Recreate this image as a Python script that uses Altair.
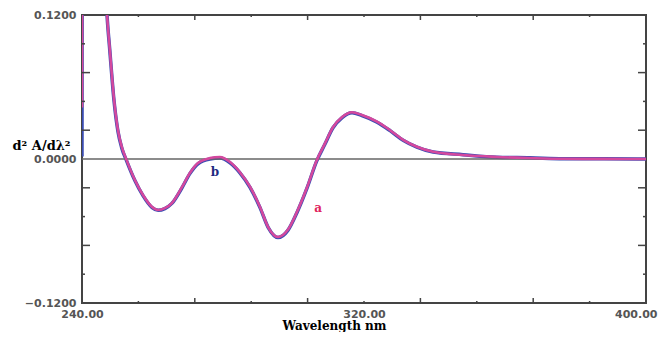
import altair as alt
import pandas as pd

# ---- data ----
wavelength = [240.0, 240.3, 241.5, 243.5, 245.5, 246.3, 247.1, 247.9, 249.1, 250.2, 251.3, 252.6,
              255.0, 257.3, 259.9, 261.6, 263.5, 265.5, 268.4, 270.6, 272.9, 276.3, 279.1,
              282.0, 284.8, 287.7, 290.5, 292.8, 295.6, 298.4, 301.0, 303.8, 306.6,
              308.9, 311.2, 313.8, 316.6, 319.4, 323.7, 327.4, 331.1, 335.0, 339.6,
              348.1, 357.7, 367.1, 376.5, 388.0, 400.0]
curve_a = [0.043, 0.60, 0.55, 0.40, 0.25, 0.17, 0.12, 0.091, 0.049, 0.024, 0.010, -0.0005,
           -0.0175, -0.030, -0.040, -0.0425, -0.041, -0.0367, -0.0233, -0.0117, -0.0033, 0.0008, 0.0017,
           -0.0025, -0.011, -0.0233, -0.040, -0.0567, -0.065, -0.059, -0.044, -0.024, -0.001,
           0.0128, 0.0265, 0.035, 0.039, 0.0367, 0.0312, 0.0240, 0.0160, 0.0102, 0.0060,
           0.0033, 0.0017, 0.0008, 0.0002, 0.0001, 0.0]
curve_b = [0.002, 0.60, 0.55, 0.40, 0.25, 0.17, 0.12, 0.090, 0.048, 0.023, 0.009, -0.0012,
           -0.018, -0.0305, -0.0405, -0.0428, -0.0413, -0.037, -0.0238, -0.0122, -0.0040, 0.0, 0.0008,
           -0.0032, -0.0115, -0.0238, -0.0405, -0.057, -0.0655, -0.0595, -0.0445, -0.0245, -0.0016,
           0.0123, 0.0260, 0.0345, 0.0385, 0.0362, 0.0307, 0.0236, 0.0156, 0.0099, 0.0058,
           0.0036, 0.0015, 0.0010, 0.0003, 0.0002, 0.0]

x_label_values = [240, 320, 400]
y_label_values = [-0.12, 0.0, 0.12]
x_major_ticks = [272, 304, 336, 368]
x_minor_ticks = [256, 288, 320, 352, 384]
y_major_ticks = [-0.072, -0.024, 0.024, 0.072]
y_minor_ticks = [-0.096, -0.048, 0.048, 0.096]

label_text = ["a", "b"]
label_x = [307.0, 277.7]
label_y = [-0.041, -0.011]

# ---- chart ----
W, H = 564, 288
MAG = "#d4489e"
BLUE = "#3b4db3"
FRAME = "#444444"

xs = alt.Scale(domain=[240, 400], nice=False, zero=False)
ys = alt.Scale(domain=[-0.12, 0.12], nice=False, zero=False)

df_a = pd.DataFrame({"nm": wavelength, "v": curve_a})
df_b = pd.DataFrame({"nm": wavelength, "v": curve_b})

x_axis = alt.Axis(values=x_label_values, format=".2f", ticks=False, domain=False, grid=False,
                  labelFont="DejaVu Sans", labelFontWeight="bold", labelFontSize=11,
                  labelColor="#555555", labelPadding=5, labelFlush=False,
                  labelAlign=alt.ExprRef(expr="datum.value == 400 ? 'right' : 'center'"),
                  labelOffset=alt.ExprRef(expr="datum.value == 400 ? 11 : 0"),
                  title="Wavelength nm", titleFont="DejaVu Serif", titleFontWeight="bold",
                  titleFontSize=12, titleColor="#000000", titleX=252, titleY=22.5,
                  titleAlign="center", titleBaseline="middle")
y_axis = alt.Axis(values=y_label_values, format=".4f", ticks=False, domain=False, grid=False,
                  labelFont="DejaVu Sans", labelFontWeight="bold", labelFontSize=11,
                  labelColor="#555555", labelPadding=6,
                  title="d\u00b2 A/d\u03bb\u00b2", titleAngle=0, titleX=-70, titleY=130,
                  titleAlign="left", titleBaseline="middle", titleFont="DejaVu Serif",
                  titleFontWeight="bold", titleFontSize=13, titleColor="#000000")


def X(field):
    return alt.X(field, scale=xs, axis=x_axis)


def Y(field):
    return alt.Y(field, scale=ys, axis=y_axis)


line_b = alt.Chart(df_b).mark_line(color=BLUE, strokeWidth=3.5, clip=True,
                                   interpolate="monotone").encode(x=X("nm:Q"), y=Y("v:Q"))
line_a = alt.Chart(df_a).mark_line(color=MAG, strokeWidth=2.6, clip=True,
                                   interpolate="monotone").encode(x=X("nm:Q"), y=Y("v:Q"))

zero = alt.Chart(pd.DataFrame({"v": [0.0]})).mark_rule(color="#666666", strokeWidth=1.5).encode(
    y=Y("v:Q"))


def xticks(vals, length):
    d = pd.DataFrame({"t": vals})
    bot = alt.Chart(d).mark_rule(color=FRAME, strokeWidth=1.5).encode(
        x=X("t:Q"), y=alt.value(H), y2=alt.value(H - length))
    top = alt.Chart(d).mark_rule(color=FRAME, strokeWidth=1.5).encode(
        x=X("t:Q"), y=alt.value(0), y2=alt.value(length))
    return [bot, top]


def yticks(vals, length):
    d = pd.DataFrame({"t": vals})
    left = alt.Chart(d).mark_rule(color=FRAME, strokeWidth=1.5).encode(
        y=Y("t:Q"), x=alt.value(0), x2=alt.value(length))
    right = alt.Chart(d).mark_rule(color=FRAME, strokeWidth=1.5).encode(
        y=Y("t:Q"), x=alt.value(W), x2=alt.value(W - length))
    return [left, right]


ticks = (xticks(x_major_ticks, 5) + xticks(x_minor_ticks, 2)
         + yticks(y_major_ticks, 8) + yticks(y_minor_ticks, 3))

labels_df = pd.DataFrame({"t": label_text, "nm": label_x, "v": label_y})
lab_a = alt.Chart(labels_df[labels_df.t == "a"]).mark_text(
    font="DejaVu Serif", fontWeight="bold", fontSize=12, color="#e0245e").encode(
    x=X("nm:Q"), y=Y("v:Q"), text="t:N")
lab_b = alt.Chart(labels_df[labels_df.t == "b"]).mark_text(
    font="DejaVu Serif", fontWeight="bold", fontSize=12, color="#1f2a80").encode(
    x=X("nm:Q"), y=Y("v:Q"), text="t:N")

chart = alt.layer(line_b, zero, line_a, *ticks, lab_a, lab_b).properties(
    width=W, height=H,
    autosize=alt.AutoSizeParams(type="none"),
    padding={"left": 74, "top": 7, "right": 12, "bottom": 29},
).configure_view(stroke=FRAME, strokeWidth=2)

chart.save("out.html", embed_options={"renderer": "svg", "actions": False})
